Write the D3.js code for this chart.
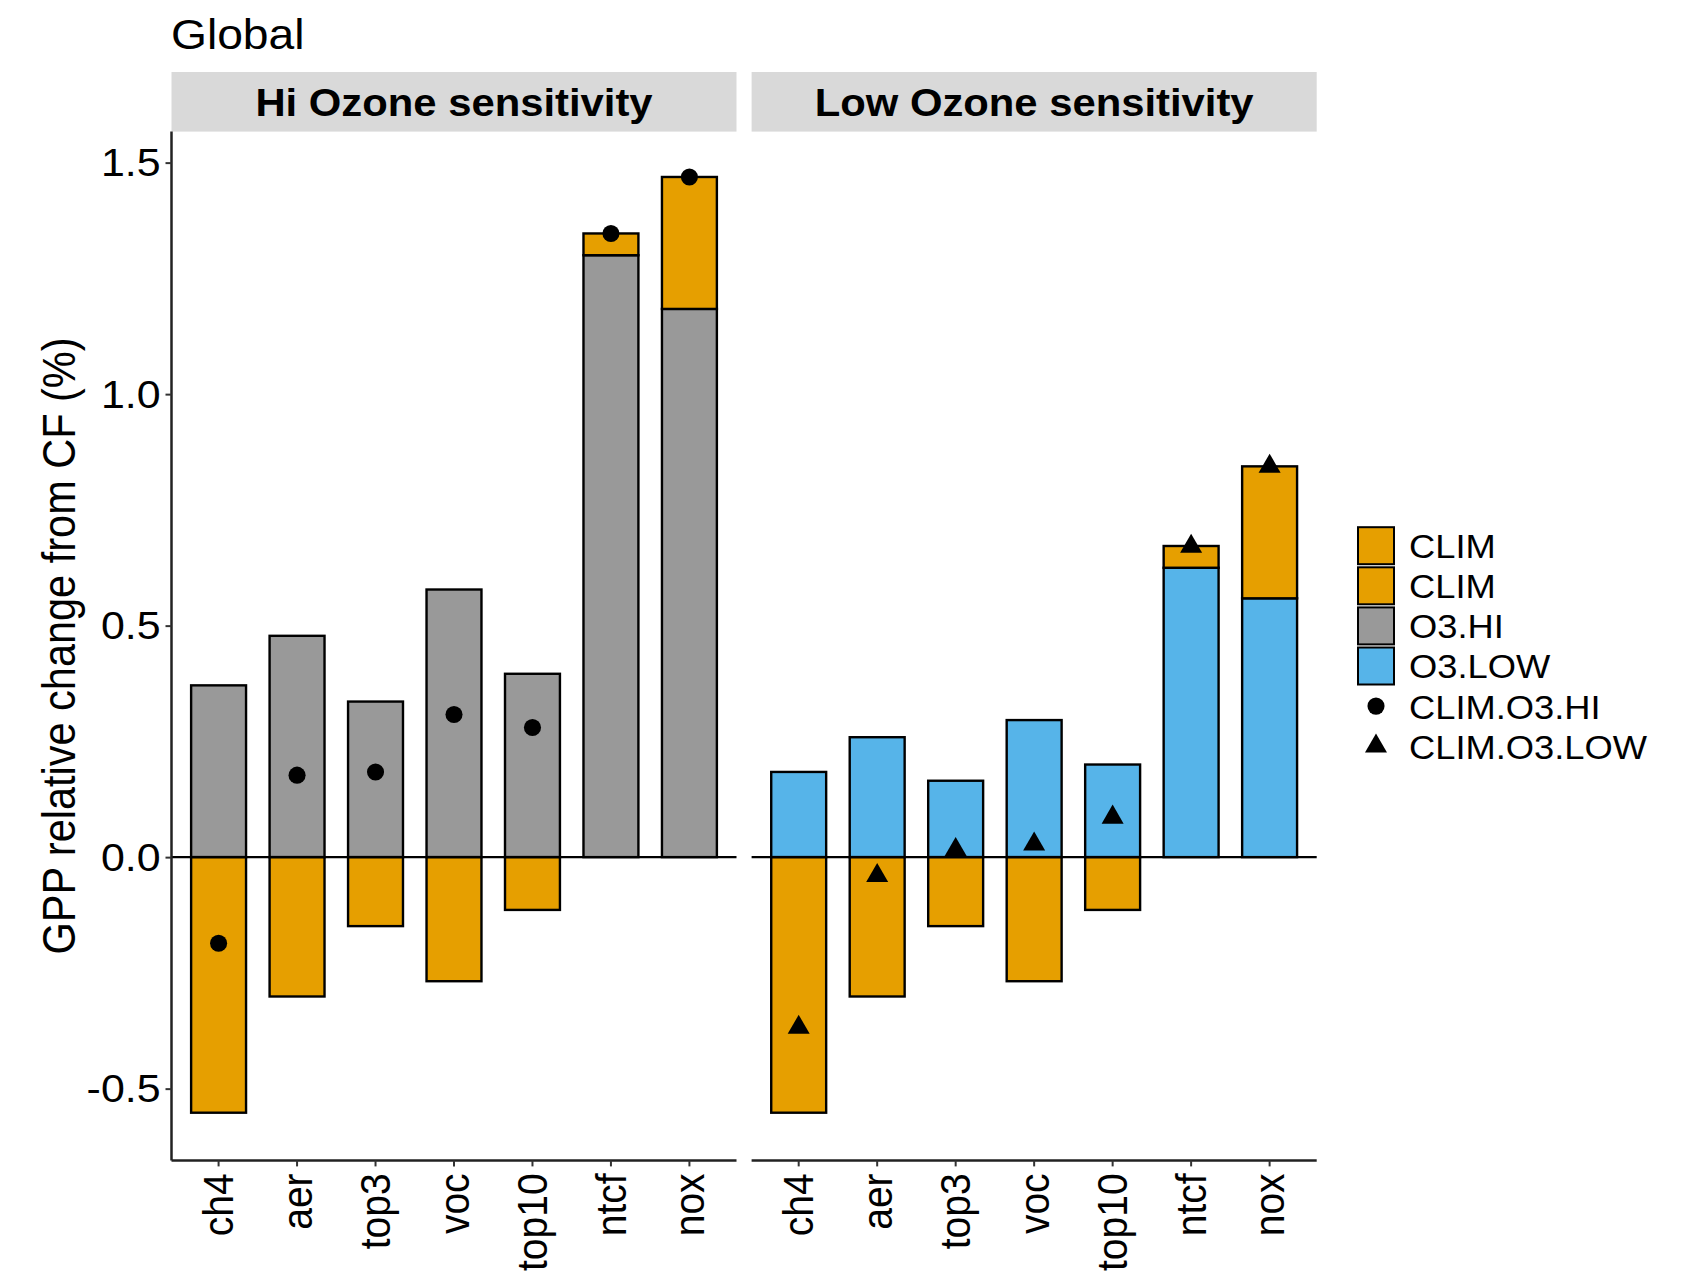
<!DOCTYPE html>
<html>
<head>
<meta charset="utf-8">
<script src="https://cdn.jsdelivr.net/npm/d3@7"></script>
<style>
  html, body { margin: 0; padding: 0; background: #fff; }
  svg { display: block; }
  text { font-family: "Liberation Sans", Arial, Helvetica, sans-serif; fill: #000; }
</style>
</head>
<body>
<svg id="chart" width="1691" height="1274"></svg>
<script>
// Emission-reduction scenarios along the x axis
const categories = ["ch4", "aer", "top3", "voc", "top10", "ntcf", "nox"];

// GPP change (%) from the climate response (same in both panels)
const clim = [-0.552, -0.301, -0.149, -0.268, -0.114, 0.047, 0.285];
// GPP change (%) from ozone, high and low sensitivity
const o3Hi = [0.371, 0.478, 0.336, 0.578, 0.396, 1.300, 1.184];
const o3Low = [0.184, 0.259, 0.165, 0.296, 0.200, 0.625, 0.559];
// Combined climate + ozone response, drawn as points
const climO3Hi = [-0.186, 0.177, 0.184, 0.308, 0.280, 1.347, 1.469];
const climO3Low = [-0.368, -0.040, 0.016, 0.028, 0.086, 0.671, 0.844];

const yTicks = [-0.5, 0.0, 0.5, 1.0, 1.5];
const panelTitles = ["Hi Ozone sensitivity", "Low Ozone sensitivity"];
const legendLabels = ["CLIM", "CLIM", "O3.HI", "O3.LOW", "CLIM.O3.HI", "CLIM.O3.LOW"];

const colors = { clim: "#E69F00", hi: "#999999", low: "#56B4E9" };
const STRETCH = "scale(1.1,1)";

const svg = d3.select("#chart");

// layout
const panelTop = 131.6, panelBottom = 1160.4;
const panels = [
  { x0: 171.5, x1: 736.5, o3: o3Hi, pts: climO3Hi, fill: colors.hi, shape: "circle" },
  { x0: 751.6, x1: 1316.7, o3: o3Low, pts: climO3Low, fill: colors.low, shape: "triangle" }
];

const y = d3.scaleLinear().domain([-0.655, 1.567]).range([panelBottom, panelTop]);

function label(parent, x, yy, str, opts = {}) {
  const t = parent.append("text")
    .attr("transform", `translate(${x},${yy}) ${STRETCH}` + (opts.rotate ? ` rotate(${opts.rotate})` : ""))
    .attr("text-anchor", opts.anchor || "start")
    .style("font-size", (opts.size || 38) + "px")
    .style("font-weight", opts.weight || "normal")
    .text(str);
  if (opts.baseline) t.attr("dominant-baseline", opts.baseline);
  return t;
}

// title
label(svg, 171, 49, "Global", { size: 42 });

// y axis title
label(svg, 59, (panelTop + panelBottom) / 2, "GPP relative change from CF (%)",
  { size: 41.5, rotate: -90, anchor: "middle", baseline: "central" });

const stack = d3.stack()
  .keys(["o3", "clim"])
  .offset(d3.stackOffsetDiverging);

panels.forEach((p, pi) => {
  const g = svg.append("g");
  const x = d3.scaleBand().domain(categories).range([p.x0, p.x1])
    .paddingInner(0.3).paddingOuter(0.25);

  // strip
  g.append("rect")
    .attr("x", p.x0).attr("y", 72)
    .attr("width", p.x1 - p.x0).attr("height", panelTop - 72)
    .attr("fill", "#D9D9D9");
  label(g, (p.x0 + p.x1) / 2, 102.5, panelTitles[pi],
    { size: 38, weight: "bold", anchor: "middle", baseline: "central" });

  // stacked bars
  const rows = categories.map((c, i) => ({ cat: c, o3: p.o3[i], clim: clim[i] }));
  const series = stack(rows);
  series.forEach(s => {
    const fill = s.key === "o3" ? p.fill : colors.clim;
    g.append("g").selectAll("rect")
      .data(s)
      .join("rect")
      .attr("x", d => x(d.data.cat))
      .attr("width", x.bandwidth())
      .attr("y", d => y(Math.max(d[0], d[1])))
      .attr("height", d => Math.abs(y(d[0]) - y(d[1])))
      .attr("fill", fill)
      .attr("stroke", "#000")
      .attr("stroke-width", 2.4);
  });

  // zero reference line
  g.append("line")
    .attr("x1", p.x0).attr("x2", p.x1)
    .attr("y1", y(0)).attr("y2", y(0))
    .attr("stroke", "#000").attr("stroke-width", 2.2);

  // combined-response points
  const sym = d3.symbol()
    .type(p.shape === "circle" ? d3.symbolCircle : d3.symbolTriangle)
    .size(p.shape === "circle" ? 230 : 210);
  g.append("g").selectAll("path")
    .data(categories.map((c, i) => ({ cat: c, v: p.pts[i] })))
    .join("path")
    .attr("d", sym)
    .attr("transform", d => `translate(${x(d.cat) + x.bandwidth() / 2},${y(d.v)})`)
    .attr("fill", "#000");

  // x axis
  const xAxis = g.append("g")
    .attr("transform", `translate(0,${panelBottom})`)
    .call(d3.axisBottom(x).tickSize(6).tickSizeOuter(0));
  xAxis.select(".domain").attr("stroke", "#222").attr("stroke-width", 2.5)
    .attr("d", `M${p.x0},0H${p.x1}`);
  xAxis.selectAll(".tick line").attr("stroke", "#333").attr("stroke-width", 2);
  xAxis.selectAll(".tick text")
    .attr("x", null).attr("y", null).attr("dy", null)
    .attr("transform", `translate(0,13) ${STRETCH} rotate(-90)`)
    .attr("text-anchor", "end")
    .attr("dominant-baseline", "central")
    .attr("fill", "#000")
    .style("font-size", "39px")
    .style("font-family", '"Liberation Sans", Arial, sans-serif');

  // y axis on the first panel only
  if (pi === 0) {
    const yAxis = g.append("g")
      .attr("transform", `translate(${p.x0},0)`)
      .call(d3.axisLeft(y).tickValues(yTicks).tickSize(6).tickSizeOuter(0)
        .tickFormat(d => d3.format(".1f")(d).replace("\u2212", "-")));
    yAxis.select(".domain").attr("stroke", "#222").attr("stroke-width", 2.5)
      .attr("d", `M0,${panelTop}V${panelBottom}`);
    yAxis.selectAll(".tick line").attr("stroke", "#333").attr("stroke-width", 2);
    yAxis.selectAll(".tick text")
      .attr("x", -10).attr("dy", null)
      .attr("transform", STRETCH)
      .attr("dominant-baseline", "central")
      .attr("fill", "#000")
      .style("font-size", "39px")
      .style("font-family", '"Liberation Sans", Arial, sans-serif');
  }
});

// legend
const legend = svg.append("g");
const legendFills = [colors.clim, colors.clim, colors.hi, colors.low];
const keyX = 1358, keyW = 36, keyH = 37, itemStep = 40.1, firstY = 545.7;
legendLabels.forEach((lab, i) => {
  const cy = firstY + i * itemStep;
  if (i < 4) {
    legend.append("rect")
      .attr("x", keyX).attr("y", cy - keyH / 2)
      .attr("width", keyW).attr("height", keyH)
      .attr("fill", legendFills[i])
      .attr("stroke", "#000").attr("stroke-width", 2);
  } else {
    const sym = d3.symbol()
      .type(i === 4 ? d3.symbolCircle : d3.symbolTriangle)
      .size(i === 4 ? 230 : 210);
    legend.append("path")
      .attr("d", sym)
      .attr("transform", `translate(${keyX + keyW / 2},${cy})`)
      .attr("fill", "#000");
  }
  label(legend, 1409, cy + 1, lab, { size: 33, baseline: "central" });
});
</script>
</body>
</html>
